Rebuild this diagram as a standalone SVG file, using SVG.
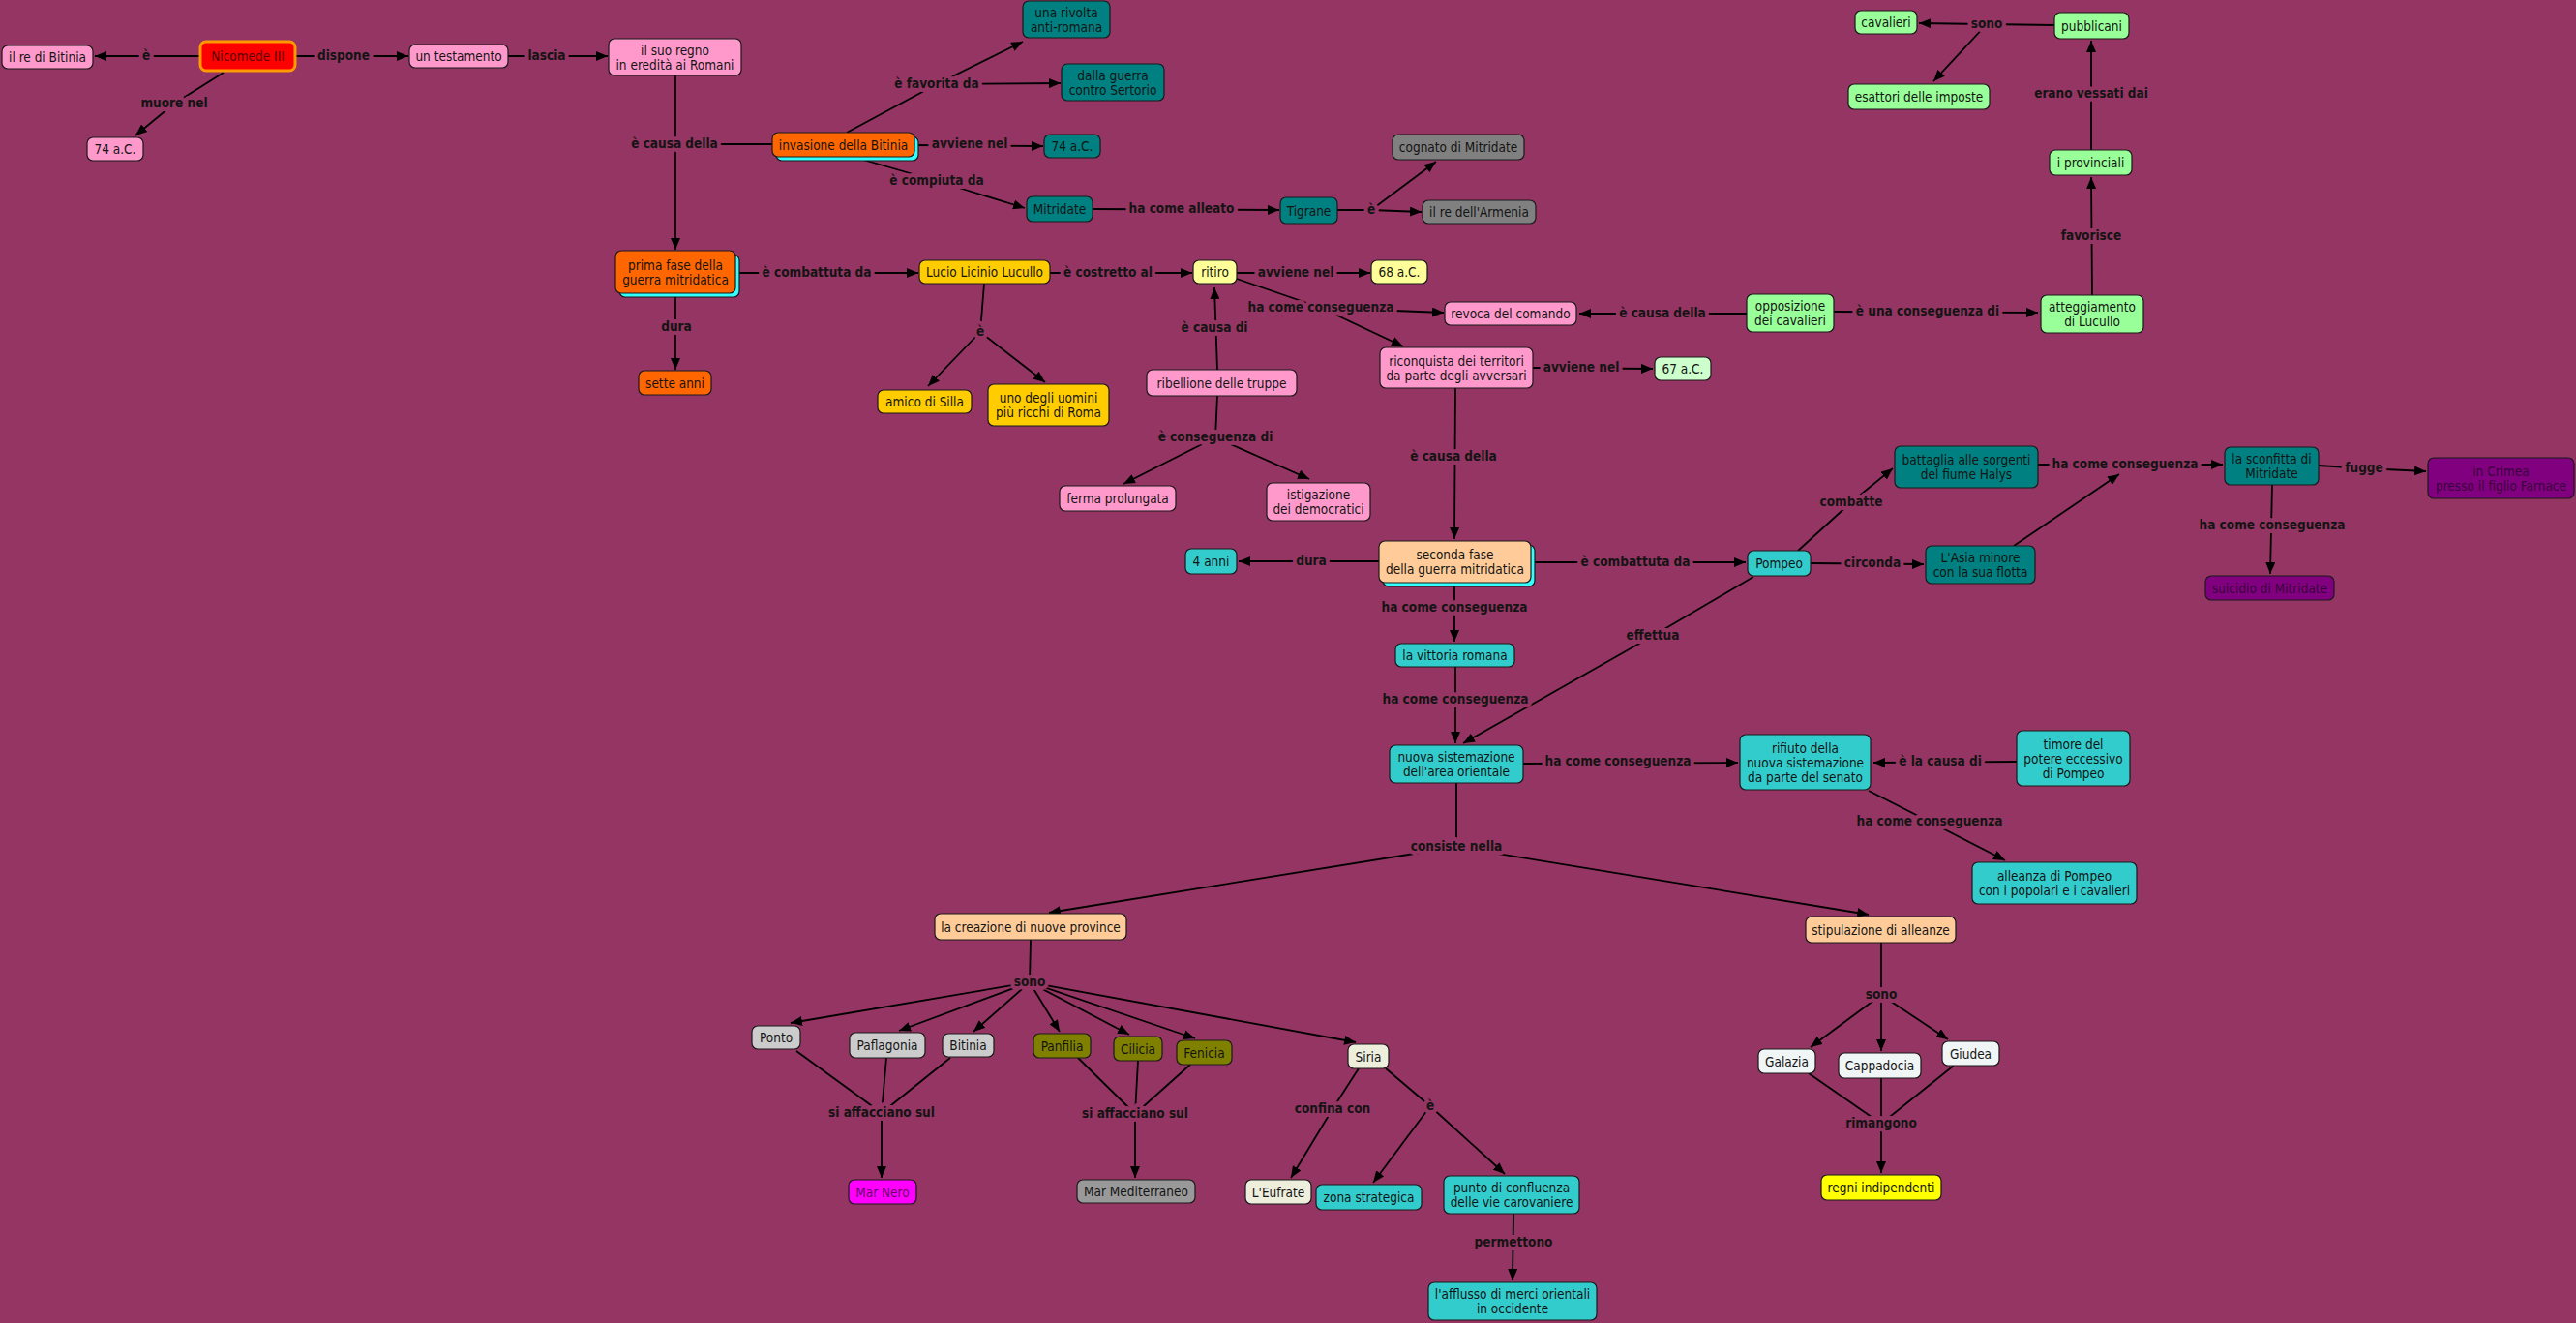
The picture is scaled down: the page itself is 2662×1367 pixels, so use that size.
<svg xmlns="http://www.w3.org/2000/svg" width="2662" height="1367" viewBox="0 0 2662 1367">
<defs>
<style>
.nd rect{stroke:#1a1a1a;stroke-width:1.2}
.sh{fill:#33ffff;stroke:none}
.nt{font-family:'DejaVu Sans Condensed','DejaVu Sans',sans-serif;font-stretch:condensed;font-size:13.5px;text-anchor:middle;fill:#141414}
.lt{font-family:'DejaVu Sans Condensed','DejaVu Sans',sans-serif;font-stretch:condensed;font-weight:bold;font-size:13.5px;text-anchor:middle;fill:#141414;paint-order:stroke;stroke:#953563;stroke-width:8px;stroke-linejoin:round}
.ln path{stroke:#000;stroke-width:1.8;fill:none}
.pk{fill:#ff99cc}.tl{fill:#008080}.or{fill:#ff6600}.gd{fill:#ffcc00}.ly{fill:#ffff99}.gr{fill:#808080}
.lg{fill:#99ff99}.vg{fill:#ccffcc}.pc{fill:#ffcc99}.cy{fill:#33cccc}.pu{fill:#800080}.lgr{fill:#cccccc}
.ol{fill:#808000}.bg2{fill:#eeeedd}.wh{fill:#f0f5f5}.ye{fill:#ffff00}
</style>
<marker id="ah" viewBox="0 0 12 10" refX="12" refY="5" markerWidth="12" markerHeight="10" markerUnits="userSpaceOnUse" orient="auto"><path d="M0,0 L12,5 L0,10 z" fill="#000"/></marker>
</defs>
<rect x="0" y="0" width="2662" height="1367" fill="#953563"/>

<g id="connectors" class="ln">
<path d="M207,58 L98,58" marker-end="url(#ah)"/>
<path d="M305,58 L422,58" marker-end="url(#ah)"/>
<path d="M525,58 L628,58" marker-end="url(#ah)"/>
<path d="M231,75 L180,107 L140,140" marker-end="url(#ah)"/>
<path d="M698,78 L698,258" marker-end="url(#ah)"/>
<path d="M798,149 L697,149"/>
<path d="M875,137 L968,87"/>
<path d="M968,87 L1057,43" marker-end="url(#ah)"/>
<path d="M968,87 L1096,86" marker-end="url(#ah)"/>
<path d="M945,150 L1078,151" marker-end="url(#ah)"/>
<path d="M885,163 L968,187 L1059,215" marker-end="url(#ah)"/>
<path d="M1129,216 L1322,217" marker-end="url(#ah)"/>
<path d="M1382,217 L1417,217"/>
<path d="M1417,217 L1469,219" marker-end="url(#ah)"/>
<path d="M1417,217 L1484,167" marker-end="url(#ah)"/>
<path d="M760,282 L949,282" marker-end="url(#ah)"/>
<path d="M1085,282 L1232,282" marker-end="url(#ah)"/>
<path d="M698,303 L698,382" marker-end="url(#ah)"/>
<path d="M1017,293 L1013,343"/>
<path d="M1013,343 L959,399" marker-end="url(#ah)"/>
<path d="M1013,343 L1080,395" marker-end="url(#ah)"/>
<path d="M1258,382 L1255,297" marker-end="url(#ah)"/>
<path d="M1258,409 L1256,452"/>
<path d="M1256,452 L1161,500" marker-end="url(#ah)"/>
<path d="M1256,452 L1353,495" marker-end="url(#ah)"/>
<path d="M1278,282 L1416,282" marker-end="url(#ah)"/>
<path d="M1278,288 L1365,318"/>
<path d="M1365,318 L1492,323" marker-end="url(#ah)"/>
<path d="M1365,318 L1450,358" marker-end="url(#ah)"/>
<path d="M1805,324 L1632,324" marker-end="url(#ah)"/>
<path d="M1584,380 L1708,381" marker-end="url(#ah)"/>
<path d="M1895,322 L2106,323" marker-end="url(#ah)"/>
<path d="M2162,305 L2161,183" marker-end="url(#ah)"/>
<path d="M2161,155 L2161,42" marker-end="url(#ah)"/>
<path d="M2123,26 L2053,25"/>
<path d="M2053,25 L1983,24" marker-end="url(#ah)"/>
<path d="M2053,25 L1998,84" marker-end="url(#ah)"/>
<path d="M1504,401 L1503,557" marker-end="url(#ah)"/>
<path d="M1425,580 L1280,580" marker-end="url(#ah)"/>
<path d="M1582,581 L1804,581" marker-end="url(#ah)"/>
<path d="M1503,602 L1503,663" marker-end="url(#ah)"/>
<path d="M1504,689 L1504,768" marker-end="url(#ah)"/>
<path d="M1812,596 L1708,657 L1512,768" marker-end="url(#ah)"/>
<path d="M1574,789 L1796,788" marker-end="url(#ah)"/>
<path d="M2084,787 L1936,788" marker-end="url(#ah)"/>
<path d="M1931,817 L1994,849 L2072,889" marker-end="url(#ah)"/>
<path d="M1505,809 L1505,875"/>
<path d="M1505,875 L1084,943" marker-end="url(#ah)"/>
<path d="M1505,875 L1931,945" marker-end="url(#ah)"/>
<path d="M1858,569 L1913,519 L1956,484" marker-end="url(#ah)"/>
<path d="M1871,582 L1988,583" marker-end="url(#ah)"/>
<path d="M2106,480 L2297,480" marker-end="url(#ah)"/>
<path d="M2081,564 L2190,490" marker-end="url(#ah)"/>
<path d="M2396,481 L2443,484 L2507,487" marker-end="url(#ah)"/>
<path d="M2348,501 L2346,593" marker-end="url(#ah)"/>
<path d="M1065,971 L1064,1015"/>
<path d="M1064,1015 L817,1057" marker-end="url(#ah)"/>
<path d="M1064,1015 L929,1065" marker-end="url(#ah)"/>
<path d="M1064,1015 L1006,1066" marker-end="url(#ah)"/>
<path d="M1064,1015 L1095,1066" marker-end="url(#ah)"/>
<path d="M1064,1015 L1167,1069" marker-end="url(#ah)"/>
<path d="M1064,1015 L1235,1073" marker-end="url(#ah)"/>
<path d="M1064,1015 L1401,1077" marker-end="url(#ah)"/>
<path d="M823,1086 L911,1150"/>
<path d="M916,1093 L911,1150"/>
<path d="M982,1093 L911,1150"/>
<path d="M911,1150 L911,1217" marker-end="url(#ah)"/>
<path d="M1114,1093 L1173,1151"/>
<path d="M1176,1096 L1173,1151"/>
<path d="M1230,1100 L1173,1151"/>
<path d="M1173,1151 L1173,1217" marker-end="url(#ah)"/>
<path d="M1404,1104 L1377,1146 L1334,1217" marker-end="url(#ah)"/>
<path d="M1432,1104 L1478,1143"/>
<path d="M1478,1143 L1419,1222" marker-end="url(#ah)"/>
<path d="M1478,1143 L1555,1213" marker-end="url(#ah)"/>
<path d="M1564,1254 L1563,1323" marker-end="url(#ah)"/>
<path d="M1944,974 L1944,1028"/>
<path d="M1944,1028 L1871,1082" marker-end="url(#ah)"/>
<path d="M1944,1028 L1944,1086" marker-end="url(#ah)"/>
<path d="M1944,1028 L2013,1074" marker-end="url(#ah)"/>
<path d="M1869,1109 L1944,1161"/>
<path d="M1944,1114 L1944,1161"/>
<path d="M2019,1101 L1944,1161"/>
<path d="M1944,1161 L1944,1212" marker-end="url(#ah)"/>
</g>

<g id="labels">
<text class="lt" x="151" y="62">è</text>
<text class="lt" x="355" y="62">dispone</text>
<text class="lt" x="565" y="62">lascia</text>
<text class="lt" x="180" y="111">muore nel</text>
<text class="lt" x="697" y="153">è causa della</text>
<text class="lt" x="968" y="91">è favorita da</text>
<text class="lt" x="1002" y="153">avviene nel</text>
<text class="lt" x="968" y="191">è compiuta da</text>
<text class="lt" x="1221" y="220">ha come alleato</text>
<text class="lt" x="1417" y="221">è</text>
<text class="lt" x="844" y="286">è combattuta da</text>
<text class="lt" x="1145" y="286">è costretto al</text>
<text class="lt" x="699" y="342">dura</text>
<text class="lt" x="1013" y="347">è</text>
<text class="lt" x="1255" y="343">è causa di</text>
<text class="lt" x="1256" y="456">è conseguenza di</text>
<text class="lt" x="1339" y="286">avviene nel</text>
<text class="lt" x="1365" y="322">ha come conseguenza</text>
<text class="lt" x="1718" y="328">è causa della</text>
<text class="lt" x="1634" y="384">avviene nel</text>
<text class="lt" x="1992" y="326">è una conseguenza di</text>
<text class="lt" x="2161" y="248">favorisce</text>
<text class="lt" x="2161" y="101">erano vessati dai</text>
<text class="lt" x="2053" y="29">sono</text>
<text class="lt" x="1502" y="476">è causa della</text>
<text class="lt" x="1355" y="584">dura</text>
<text class="lt" x="1690" y="585">è combattuta da</text>
<text class="lt" x="1503" y="632">ha come conseguenza</text>
<text class="lt" x="1504" y="727">ha come conseguenza</text>
<text class="lt" x="1708" y="661">effettua</text>
<text class="lt" x="1672" y="791">ha come conseguenza</text>
<text class="lt" x="2005" y="791">è la causa di</text>
<text class="lt" x="1994" y="853">ha come conseguenza</text>
<text class="lt" x="1505" y="879">consiste nella</text>
<text class="lt" x="1913" y="523">combatte</text>
<text class="lt" x="1935" y="586">circonda</text>
<text class="lt" x="2196" y="484">ha come conseguenza</text>
<text class="lt" x="2443" y="488">fugge</text>
<text class="lt" x="2348" y="547">ha come conseguenza</text>
<text class="lt" x="1064" y="1019">sono</text>
<text class="lt" x="911" y="1154">si affacciano sul</text>
<text class="lt" x="1173" y="1155">si affacciano sul</text>
<text class="lt" x="1377" y="1150">confina con</text>
<text class="lt" x="1478" y="1147">è</text>
<text class="lt" x="1564" y="1288">permettono</text>
<text class="lt" x="1944" y="1032">sono</text>
<text class="lt" x="1944" y="1165">rimangono</text>
</g>

<g id="n_re_bitinia" class="nd"><rect class="pk" x="2" y="47" width="94" height="24" rx="6"/><text class="nt" x="49" y="64">il re di Bitinia</text></g>
<g id="n_nicomede" class="nd"><rect x="207" y="43" width="98" height="30" rx="6" style="fill:#ff0000;stroke:#ff9900;stroke-width:3"/><text class="nt" x="256" y="63" style="fill:#5a0000">Nicomede III</text></g>
<g id="n_testamento" class="nd"><rect class="pk" x="423" y="46" width="102" height="24" rx="6"/><text class="nt" x="474" y="63">un testamento</text></g>
<g id="n_regno" class="nd"><rect class="pk" x="629" y="40" width="137" height="38" rx="6"/><text class="nt" x="697.5" y="56.5">il suo regno</text><text class="nt" x="697.5" y="71.5">in eredità ai Romani</text></g>
<g id="n_74_left" class="nd"><rect class="pk" x="90" y="142" width="58" height="24" rx="6"/><text class="nt" x="119" y="159">74 a.C.</text></g>
<g id="n_rivolta" class="nd"><rect class="tl" x="1057" y="1" width="90" height="38" rx="6"/><text class="nt" x="1102" y="17.5">una rivolta</text><text class="nt" x="1102" y="32.5">anti-romana</text></g>
<g id="n_sertorio" class="nd"><rect class="tl" x="1097" y="66" width="106" height="38" rx="6"/><text class="nt" x="1150" y="82.5">dalla guerra</text><text class="nt" x="1150" y="97.5">contro Sertorio</text></g>
<g id="n_invasione" class="nd"><rect class="sh" x="802" y="141" width="147" height="25" rx="6"/><rect class="or" x="798" y="137" width="147" height="25" rx="6"/><text class="nt" x="871.5" y="154.5">invasione della Bitinia</text></g>
<g id="n_74_teal" class="nd"><rect class="tl" x="1079" y="139" width="58" height="24" rx="6"/><text class="nt" x="1108" y="156">74 a.C.</text></g>
<g id="n_mitridate" class="nd"><rect class="tl" x="1061" y="203" width="68" height="26" rx="6"/><text class="nt" x="1095" y="221">Mitridate</text></g>
<g id="n_tigrane" class="nd"><rect class="tl" x="1323" y="204" width="59" height="27" rx="6"/><text class="nt" x="1352.5" y="222.5">Tigrane</text></g>
<g id="n_cognato" class="nd"><rect class="gr" x="1439" y="139" width="136" height="26" rx="6"/><text class="nt" x="1507" y="157">cognato di Mitridate</text></g>
<g id="n_armenia" class="nd"><rect class="gr" x="1470" y="207" width="117" height="24" rx="6"/><text class="nt" x="1528.5" y="224">il re dell'Armenia</text></g>
<g id="n_prima" class="nd"><rect class="sh" x="640" y="263" width="124" height="44" rx="6"/><rect class="or" x="636" y="259" width="124" height="44" rx="6"/><text class="nt" x="698" y="278.5">prima fase della</text><text class="nt" x="698" y="293.5">guerra mitridatica</text></g>
<g id="n_sette" class="nd"><rect class="or" x="660" y="383" width="75" height="25" rx="6"/><text class="nt" x="697.5" y="400.5">sette anni</text></g>
<g id="n_lucullo" class="nd"><rect class="gd" x="950" y="269" width="135" height="24" rx="6"/><text class="nt" x="1017.5" y="286">Lucio Licinio Lucullo</text></g>
<g id="n_ritiro" class="nd"><rect class="ly" x="1233" y="269" width="45" height="24" rx="6"/><text class="nt" x="1255.5" y="286">ritiro</text></g>
<g id="n_68" class="nd"><rect class="ly" x="1417" y="269" width="58" height="24" rx="6"/><text class="nt" x="1446" y="286">68 a.C.</text></g>
<g id="n_silla" class="nd"><rect class="gd" x="907" y="403" width="97" height="24" rx="6"/><text class="nt" x="955.5" y="420">amico di Silla</text></g>
<g id="n_ricchi" class="nd"><rect class="gd" x="1021" y="397" width="125" height="43" rx="6"/><text class="nt" x="1083.5" y="416">uno degli uomini</text><text class="nt" x="1083.5" y="431">più ricchi di Roma</text></g>
<g id="n_ribellione" class="nd"><rect class="pk" x="1185" y="382" width="155" height="27" rx="6"/><text class="nt" x="1262.5" y="400.5">ribellione delle truppe</text></g>
<g id="n_revoca" class="nd"><rect class="pk" x="1493" y="312" width="136" height="24" rx="6"/><text class="nt" x="1561" y="329">revoca del comando</text></g>
<g id="n_riconquista" class="nd"><rect class="pk" x="1426" y="359" width="158" height="42" rx="6"/><text class="nt" x="1505" y="377.5">riconquista dei territori</text><text class="nt" x="1505" y="392.5">da parte degli avversari</text></g>
<g id="n_67" class="nd"><rect class="vg" x="1710" y="369" width="58" height="24" rx="6"/><text class="nt" x="1739" y="386">67 a.C.</text></g>
<g id="n_opposizione" class="nd"><rect class="lg" x="1805" y="304" width="90" height="39" rx="6"/><text class="nt" x="1850" y="321">opposizione</text><text class="nt" x="1850" y="336">dei cavalieri</text></g>
<g id="n_atteggiamento" class="nd"><rect class="lg" x="2109" y="305" width="106" height="39" rx="6"/><text class="nt" x="2162" y="322">atteggiamento</text><text class="nt" x="2162" y="337">di Lucullo</text></g>
<g id="n_provinciali" class="nd"><rect class="lg" x="2118" y="155" width="85" height="26" rx="6"/><text class="nt" x="2160.5" y="173">i provinciali</text></g>
<g id="n_pubblicani" class="nd"><rect class="lg" x="2123" y="13" width="77" height="27" rx="6"/><text class="nt" x="2161.5" y="31.5">pubblicani</text></g>
<g id="n_cavalieri" class="nd"><rect class="lg" x="1917" y="11" width="64" height="24" rx="6"/><text class="nt" x="1949" y="28">cavalieri</text></g>
<g id="n_esattori" class="nd"><rect class="lg" x="1910" y="87" width="146" height="26" rx="6"/><text class="nt" x="1983" y="105">esattori delle imposte</text></g>
<g id="n_ferma" class="nd"><rect class="pk" x="1095" y="502" width="120" height="26" rx="6"/><text class="nt" x="1155" y="520">ferma prolungata</text></g>
<g id="n_istigazione" class="nd"><rect class="pk" x="1309" y="499" width="107" height="39" rx="6"/><text class="nt" x="1362.5" y="516">istigazione</text><text class="nt" x="1362.5" y="531">dei democratici</text></g>
<g id="n_seconda" class="nd"><rect class="sh" x="1429" y="563" width="157" height="43" rx="6"/><rect class="pc" x="1425" y="559" width="157" height="43" rx="6"/><text class="nt" x="1503.5" y="578">seconda fase</text><text class="nt" x="1503.5" y="593">della guerra mitridatica</text></g>
<g id="n_4anni" class="nd"><rect class="cy" x="1225" y="567" width="53" height="26" rx="6"/><text class="nt" x="1251.5" y="585">4 anni</text></g>
<g id="n_pompeo" class="nd"><rect class="cy" x="1806" y="569" width="65" height="26" rx="6"/><text class="nt" x="1838.5" y="587">Pompeo</text></g>
<g id="n_vittoria" class="nd"><rect class="cy" x="1442" y="665" width="123" height="24" rx="6"/><text class="nt" x="1503.5" y="682">la vittoria romana</text></g>
<g id="n_nuova" class="nd"><rect class="cy" x="1436" y="770" width="138" height="39" rx="6"/><text class="nt" x="1505" y="787">nuova sistemazione</text><text class="nt" x="1505" y="802">dell'area orientale</text></g>
<g id="n_rifiuto" class="nd"><rect class="cy" x="1798" y="759" width="135" height="57" rx="6"/><text class="nt" x="1865.5" y="777.5">rifiuto della</text><text class="nt" x="1865.5" y="792.5">nuova sistemazione</text><text class="nt" x="1865.5" y="807.5">da parte del senato</text></g>
<g id="n_battaglia" class="nd"><rect class="tl" x="1958" y="461" width="148" height="43" rx="6"/><text class="nt" x="2032" y="480">battaglia alle sorgenti</text><text class="nt" x="2032" y="495">del fiume Halys</text></g>
<g id="n_asia" class="nd"><rect class="tl" x="1990" y="564" width="113" height="39" rx="6"/><text class="nt" x="2046.5" y="581">L'Asia minore</text><text class="nt" x="2046.5" y="596">con la sua flotta</text></g>
<g id="n_sconfitta" class="nd"><rect class="tl" x="2299" y="462" width="97" height="39" rx="6"/><text class="nt" x="2347.5" y="479">la sconfitta di</text><text class="nt" x="2347.5" y="494">Mitridate</text></g>
<g id="n_crimea" class="nd"><rect class="pu" x="2509" y="473" width="151" height="42" rx="6"/><text class="nt" x="2584.5" y="491.5" style="fill:#3a003a">in Crimea</text><text class="nt" x="2584.5" y="506.5" style="fill:#3a003a">presso il figlio Farnace</text></g>
<g id="n_suicidio" class="nd"><rect class="pu" x="2279" y="595" width="133" height="25" rx="6"/><text class="nt" x="2345.5" y="612.5" style="fill:#3a003a">suicidio di Mitridate</text></g>
<g id="n_timore" class="nd"><rect class="cy" x="2084" y="755" width="117" height="57" rx="6"/><text class="nt" x="2142.5" y="773.5">timore del</text><text class="nt" x="2142.5" y="788.5">potere eccessivo</text><text class="nt" x="2142.5" y="803.5">di Pompeo</text></g>
<g id="n_alleanza" class="nd"><rect class="cy" x="2038" y="891" width="170" height="43" rx="6"/><text class="nt" x="2123" y="910">alleanza di Pompeo</text><text class="nt" x="2123" y="925">con i popolari e i cavalieri</text></g>
<g id="n_creazione" class="nd"><rect class="pc" x="966" y="944" width="198" height="27" rx="6"/><text class="nt" x="1065" y="962.5">la creazione di nuove province</text></g>
<g id="n_stipulazione" class="nd"><rect class="pc" x="1866" y="947" width="155" height="27" rx="6"/><text class="nt" x="1943.5" y="965.5">stipulazione di alleanze</text></g>
<g id="n_ponto" class="nd"><rect class="lgr" x="777" y="1060" width="50" height="24" rx="6"/><text class="nt" x="802" y="1077">Ponto</text></g>
<g id="n_paflagonia" class="nd"><rect class="lgr" x="878" y="1067" width="78" height="26" rx="6"/><text class="nt" x="917" y="1085">Paflagonia</text></g>
<g id="n_bitinia" class="nd"><rect class="lgr" x="974" y="1068" width="53" height="24" rx="6"/><text class="nt" x="1000.5" y="1085">Bitinia</text></g>
<g id="n_panfilia" class="nd"><rect class="ol" x="1068" y="1068" width="59" height="25" rx="6"/><text class="nt" x="1097.5" y="1085.5">Panfilia</text></g>
<g id="n_cilicia" class="nd"><rect class="ol" x="1151" y="1071" width="50" height="25" rx="6"/><text class="nt" x="1176" y="1088.5">Cilicia</text></g>
<g id="n_fenicia" class="nd"><rect class="ol" x="1216" y="1075" width="57" height="25" rx="6"/><text class="nt" x="1244.5" y="1092.5">Fenicia</text></g>
<g id="n_siria" class="nd"><rect class="bg2" x="1393" y="1079" width="42" height="25" rx="6"/><text class="nt" x="1414" y="1096.5">Siria</text></g>
<g id="n_marnero" class="nd"><rect x="877" y="1219" width="70" height="25" rx="6" style="fill:#ff00ff"/><text class="nt" x="912" y="1236.5" style="fill:#6a006a">Mar Nero</text></g>
<g id="n_marmed" class="nd"><rect x="1113" y="1219" width="122" height="24" rx="6" style="fill:#999999"/><text class="nt" x="1174" y="1236">Mar Mediterraneo</text></g>
<g id="n_eufrate" class="nd"><rect class="bg2" x="1287" y="1219" width="68" height="25" rx="6"/><text class="nt" x="1321" y="1236.5">L'Eufrate</text></g>
<g id="n_zona" class="nd"><rect class="cy" x="1360" y="1224" width="109" height="26" rx="6"/><text class="nt" x="1414.5" y="1242">zona strategica</text></g>
<g id="n_punto" class="nd"><rect class="cy" x="1492" y="1215" width="140" height="39" rx="6"/><text class="nt" x="1562" y="1232">punto di confluenza</text><text class="nt" x="1562" y="1247">delle vie carovaniere</text></g>
<g id="n_afflusso" class="nd"><rect class="cy" x="1476" y="1325" width="174" height="39" rx="6"/><text class="nt" x="1563" y="1342">l'afflusso di merci orientali</text><text class="nt" x="1563" y="1357">in occidente</text></g>
<g id="n_galazia" class="nd"><rect class="wh" x="1817" y="1084" width="59" height="25" rx="6"/><text class="nt" x="1846.5" y="1101.5">Galazia</text></g>
<g id="n_cappadocia" class="nd"><rect class="wh" x="1900" y="1088" width="85" height="26" rx="6"/><text class="nt" x="1942.5" y="1106">Cappadocia</text></g>
<g id="n_giudea" class="nd"><rect class="wh" x="2007" y="1076" width="59" height="25" rx="6"/><text class="nt" x="2036.5" y="1093.5">Giudea</text></g>
<g id="n_regni" class="nd"><rect class="ye" x="1882" y="1214" width="124" height="26" rx="6"/><text class="nt" x="1944" y="1232">regni indipendenti</text></g>
</svg>
